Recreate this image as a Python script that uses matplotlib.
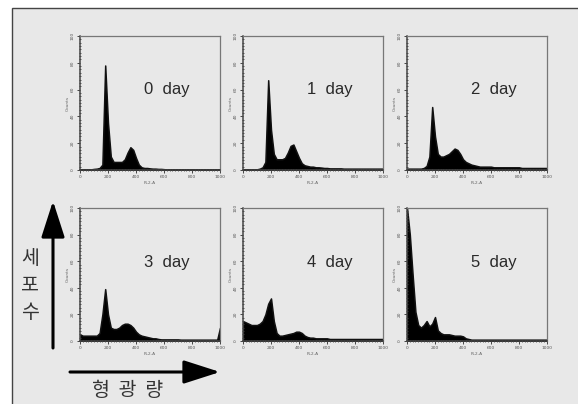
import numpy as np
import matplotlib
matplotlib.use('Agg')
import matplotlib.pyplot as plt
from matplotlib.patches import Rectangle, FancyArrowPatch
from matplotlib.ticker import MultipleLocator

# canais do histograma (FL2-A) e contagens, passo de 20
channels = np.arange(0, 1001, 20)

day0 = [0.5, 0.5, 0.5, 0.5, 0.5, 0.8, 1, 1.5, 4, 78, 35, 10, 6, 6, 6, 6, 8, 13, 17, 15,
        9, 4, 2, 1.5, 1.5, 1.2, 1, 1, 0.8, 0.8, 0.6, 0.4, 0.4, 0.4, 0.4, 0.4, 0.4, 0.4,
        0.4, 0.4, 0.4, 0.4, 0.4, 0.4, 0.4, 0.4, 0.4, 0.4, 0.4, 0.4, 0.4]
day1 = [0.5, 0.5, 0.5, 0.5, 0.5, 0.5, 1, 2, 6, 67, 30, 12, 8, 8, 8, 9, 13, 18, 19, 14,
        9, 5, 3.5, 3, 2.5, 2.5, 2, 2, 1.8, 1.5, 1.5, 1.2, 1.2, 1.2, 1.2, 1.2, 1, 1, 1,
        1, 1, 1, 1, 1, 1, 1, 1, 1, 1, 1, 1]
day2 = [1, 1, 1, 1, 1, 1, 1.5, 3, 10, 47, 25, 12, 10, 10, 11, 12, 14, 16, 15, 12,
        8, 6, 5, 4, 3.5, 3, 2.5, 2.5, 2.5, 2.5, 2.5, 2, 2, 2, 2, 2, 2, 2, 2, 2, 2,
        1.5, 1.5, 1.5, 1.5, 1.5, 1.5, 1.5, 1.5, 1.5, 1.5]
day3 = [5, 4, 4, 4, 4, 4, 4, 6, 20, 39, 20, 10, 9, 9, 10, 12, 13, 13, 12, 10,
        7, 5, 4, 3.5, 3, 2.5, 2, 2, 1.5, 1.2, 1.2, 1.2, 1.2, 1.2, 1.2, 1.2, 1, 1, 1,
        1, 1, 1, 1, 1, 1, 1, 1, 1, 1, 1, 10]
day4 = [15, 14, 13, 12, 12, 12, 13, 15, 20, 28, 32, 15, 6, 4, 4, 4.5, 5, 5.5, 6, 7,
        7, 6, 4, 3, 2.5, 2.5, 2, 2, 2, 2, 2, 1.5, 1.5, 1.5, 1.5, 1.5, 1.5, 1.5, 1.5,
        1.5, 1.5, 1.5, 1.5, 1.5, 1.5, 1.5, 1.5, 1.5, 1.5, 1.5, 1.5]
day5 = [100, 80, 50, 22, 12, 10, 12, 15, 11, 13, 18, 8, 6, 5, 5, 5, 4.5, 4, 4, 4,
        3.5, 2, 1.5, 1, 1, 1, 1, 1, 1, 1, 1, 1, 1, 1, 1, 1, 1, 1, 1, 1, 1, 1, 1, 1,
        1, 1, 1, 1, 1, 1, 1]

series = [day0, day1, day2, day3, day4, day5]
labels = ['0  day', '1  day', '2  day', '3  day', '4  day', '5  day']
xticks = [0, 200, 400, 600, 800, 1000]
yticks = [0, 20, 40, 60, 80, 100]

W, H = 578, 404
fig = plt.figure(figsize=(W / 100, H / 100), dpi=100)
fig.patch.set_facecolor('white')

# moldura cinza (atrás dos painéis)
fig.patches.append(Rectangle((12 / W, -0.02), 1.05, 1 - 8 / H + 0.02,
                             transform=fig.transFigure, facecolor='#e8e8e8',
                             edgecolor='#444444', lw=1.0, zorder=-5))

# posições dos painéis em pixels
lefts = [80, 243, 407]
tops = [36, 208]
heights = [134, 133]

for i, (counts, lab) in enumerate(zip(series, labels)):
    r, c = divmod(i, 3)
    l = lefts[c]
    t = tops[r]
    h = heights[r]
    ax = fig.add_axes([l / W, 1 - (t + h) / H, 140 / W, h / H], zorder=2)
    ax.set_facecolor('#e8e8e8')
    ax.fill_between(channels, 0, counts, color='black', lw=1.1, edgecolor='#111111')
    ax.set_xlim(0, 1000)
    ax.set_ylim(0, 100)
    ax.set_xticks(xticks)
    ax.set_xticklabels([str(v) for v in xticks], fontsize=3.2, color='#555555')
    ax.set_yticks(yticks)
    ax.set_yticklabels([str(v) for v in yticks], fontsize=3.2, color='#555555', rotation=90,
                       va='center')
    ax.xaxis.set_minor_locator(MultipleLocator(20))
    ax.yaxis.set_minor_locator(MultipleLocator(2.5))
    ax.tick_params(which='major', length=2.2, width=0.7, color='#444444', pad=1.5)
    ax.tick_params(which='minor', length=1.4, width=0.6, color='#444444', direction='inout')
    for name, s in ax.spines.items():
        s.set_color('#444444' if name in ('left', 'bottom') else '#777777')
        s.set_linewidth(1.1 if name in ('left', 'bottom') else 0.9)
    ax.set_xlabel('FL2-A', fontsize=3.2, color='#666666', labelpad=1)
    ax.set_ylabel('Counts', fontsize=3.2, color='#666666', labelpad=1)
    ax.text(0.62, 0.60 if r == 0 else 0.59, lab, transform=ax.transAxes,
            ha='center', va='center', fontsize=12, color='#2a2a2a',
            family='Liberation Sans')

# setas dos eixos
def px(x, y):
    return (x / W, 1 - y / H)

for start, end in [((53, 348), (53, 201)), ((70, 372), (220, 372))]:
    fig.add_artist(FancyArrowPatch(px(*start), px(*end), transform=fig.transFigure,
                                   arrowstyle='-|>,head_length=1.4,head_width=0.45',
                                   mutation_scale=16, lw=2.2, color='black',
                                   shrinkA=0, shrinkB=0))

kr = ['Noto Sans CJK KR', 'DejaVu Sans']
for ch, y in zip('세포수', [258, 285, 312]):
    fig.text(30 / W, 1 - y / H, ch, ha='center', va='center', fontsize=14,
             color='#333333', family=kr)
fig.text(128 / W, 1 - 390 / H, '형  광  량', ha='center', va='center', fontsize=14,
         color='#333333', family=kr)

fig.savefig('out.png', dpi=100, facecolor=fig.get_facecolor())
